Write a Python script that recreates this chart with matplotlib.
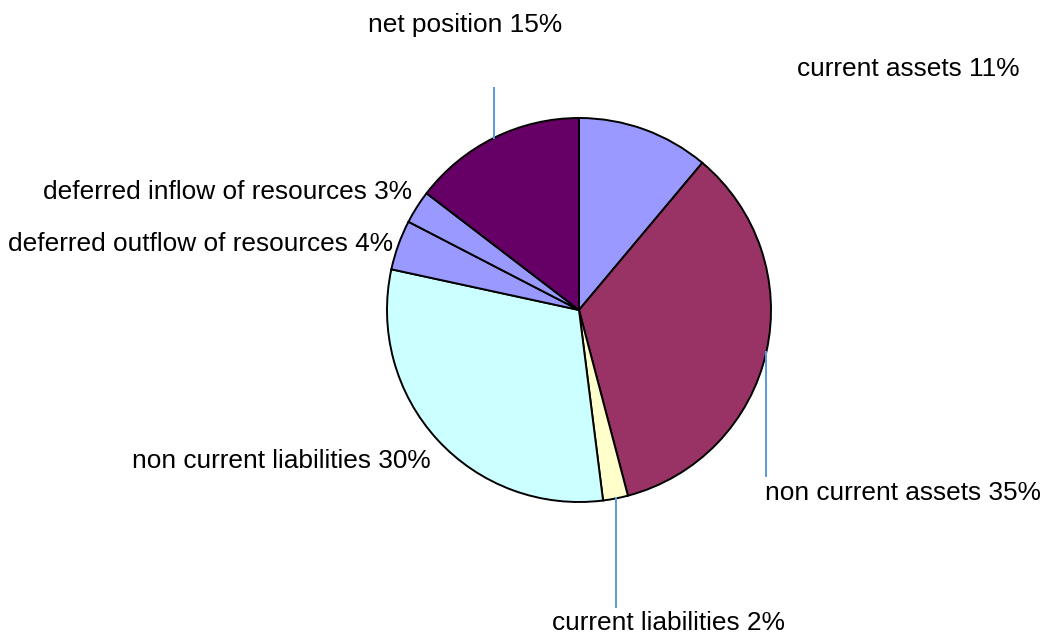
import numpy as np
import matplotlib.pyplot as plt

plt.rcParams['font.family'] = ['Liberation Sans', 'DejaVu Sans']

labels = ['current assets', 'non current assets', 'current liabilities',
          'non current liabilities', 'deferred outflow of resources',
          'deferred inflow of resources', 'net position']
values = [11.1, 34.8, 2.1, 30.4, 4.2, 2.8, 14.6]
colors = ['#9999FF', '#993366', '#FFFFCC', '#CCFFFF', '#9999FF', '#9999FF', '#660066']

W, H = 1044, 636
cx, cy, r = 579, H - 310, 192

# label anchor (x, y from top, horizontal alignment) and leader line end (y from top) or None
label_pos = [
    (908, 69, 'center', None),
    (765, 493, 'left', 476),
    (668, 623, 'center', 607),
    (431, 461, 'right', None),
    (393, 244, 'right', None),
    (412, 192, 'right', None),
    (465, 25, 'center', 88),
]

fig = plt.figure(figsize=(W / 100, H / 100), dpi=100)
ax = fig.add_axes([0, 0, 1, 1])

wedges, _ = ax.pie(values, colors=colors, startangle=90, counterclock=False,
                   center=(cx, cy), radius=r,
                   wedgeprops=dict(edgecolor='black', linewidth=1.4))

for w, lab, v, (tx, ty, ha, lend) in zip(wedges, labels, values, label_pos):
    mid = np.deg2rad((w.theta1 + w.theta2) / 2)
    if lend is not None:
        ex = cx + r * np.cos(mid)
        ey = cy + r * np.sin(mid)
        ax.plot([ex, ex], [ey, H - lend], color='#5B9BD5', linewidth=1.4)
    ax.text(tx, H - ty, f'{lab} {v:.0f}%', ha=ha, va='center', fontsize=18.9, color='black')

ax.set_xlim(0, W)
ax.set_ylim(0, H)
ax.set_aspect('equal')
ax.axis('off')

fig.savefig('out.png', dpi=100)
